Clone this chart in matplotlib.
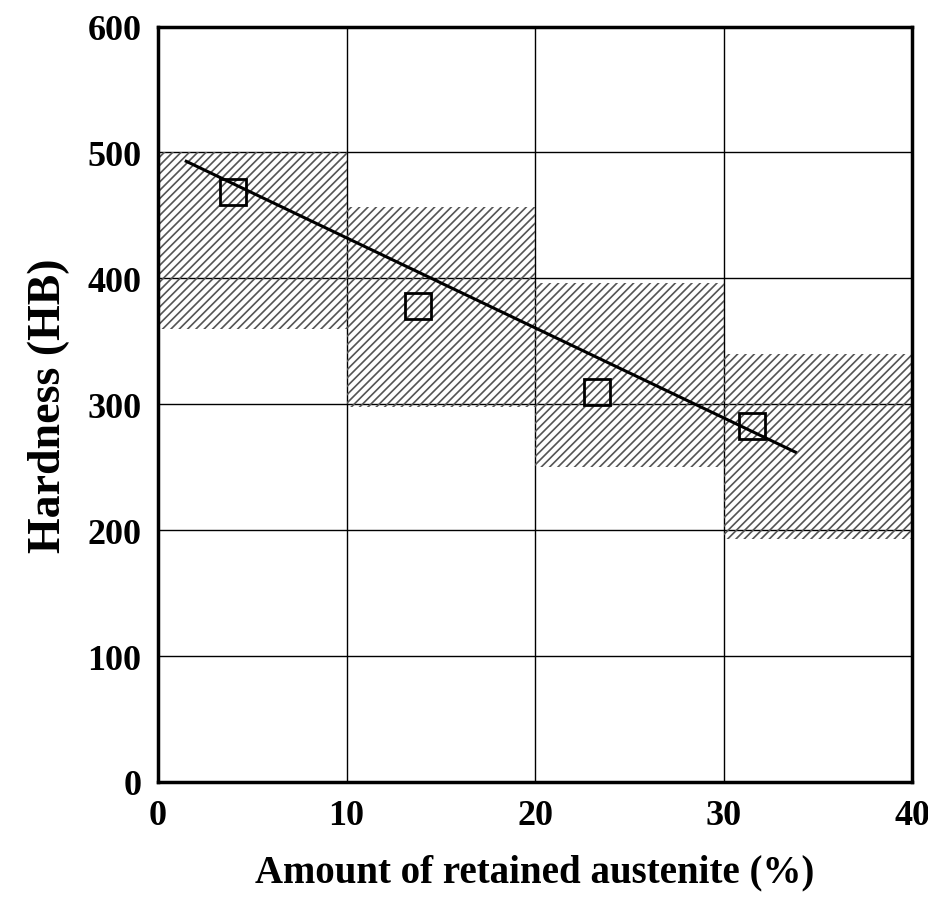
import numpy as np
import matplotlib.pyplot as plt

plt.rcParams['font.family'] = 'Liberation Serif'
plt.rcParams['font.weight'] = 'bold'
plt.rcParams['hatch.linewidth'] = 1.2

# scatter band per 10 % step of retained austenite
band_left = np.array([0, 10, 20, 30])
band_low = np.array([360, 298, 250, 193])
band_high = np.array([500, 457, 396, 340])

# mean values
ra = np.array([4.0, 13.8, 23.3, 31.5])
hb = np.array([469, 378, 310, 283])

# trend line ends
line_x = np.array([1.5, 33.8])
line_y = np.array([493, 262])

fig = plt.figure(figsize=(9.29, 9.20), dpi=100)
ax = fig.add_axes([0.170, 0.149, 0.812, 0.821])

ax.bar(band_left, band_high - band_low, bottom=band_low, width=10, align='edge',
       facecolor='none', edgecolor='#555555', linewidth=0, hatch='////', zorder=2)
ax.plot(line_x, line_y, color='black', linewidth=2.2, zorder=3)
ax.plot(ra, hb, 's', markersize=19, markerfacecolor='none',
        markeredgecolor='black', markeredgewidth=2, zorder=4)

ax.set_xlim(0, 40)
ax.set_ylim(0, 600)
ax.set_xticks([0, 10, 20, 30, 40])
ax.set_yticks([0, 100, 200, 300, 400, 500, 600])
ax.grid(True, color='black', linewidth=1.0)
ax.set_axisbelow(True)
ax.tick_params(length=0, labelsize=26, pad=12)
for s in ax.spines.values():
    s.set_linewidth(2.5)

ax.set_xlabel('Amount of retained austenite (%)', fontsize=28, fontweight='bold', labelpad=16)
ax.set_ylabel('Hardness (HB)', fontsize=33, fontweight='bold', labelpad=12)

fig.savefig('out.png', dpi=100)
